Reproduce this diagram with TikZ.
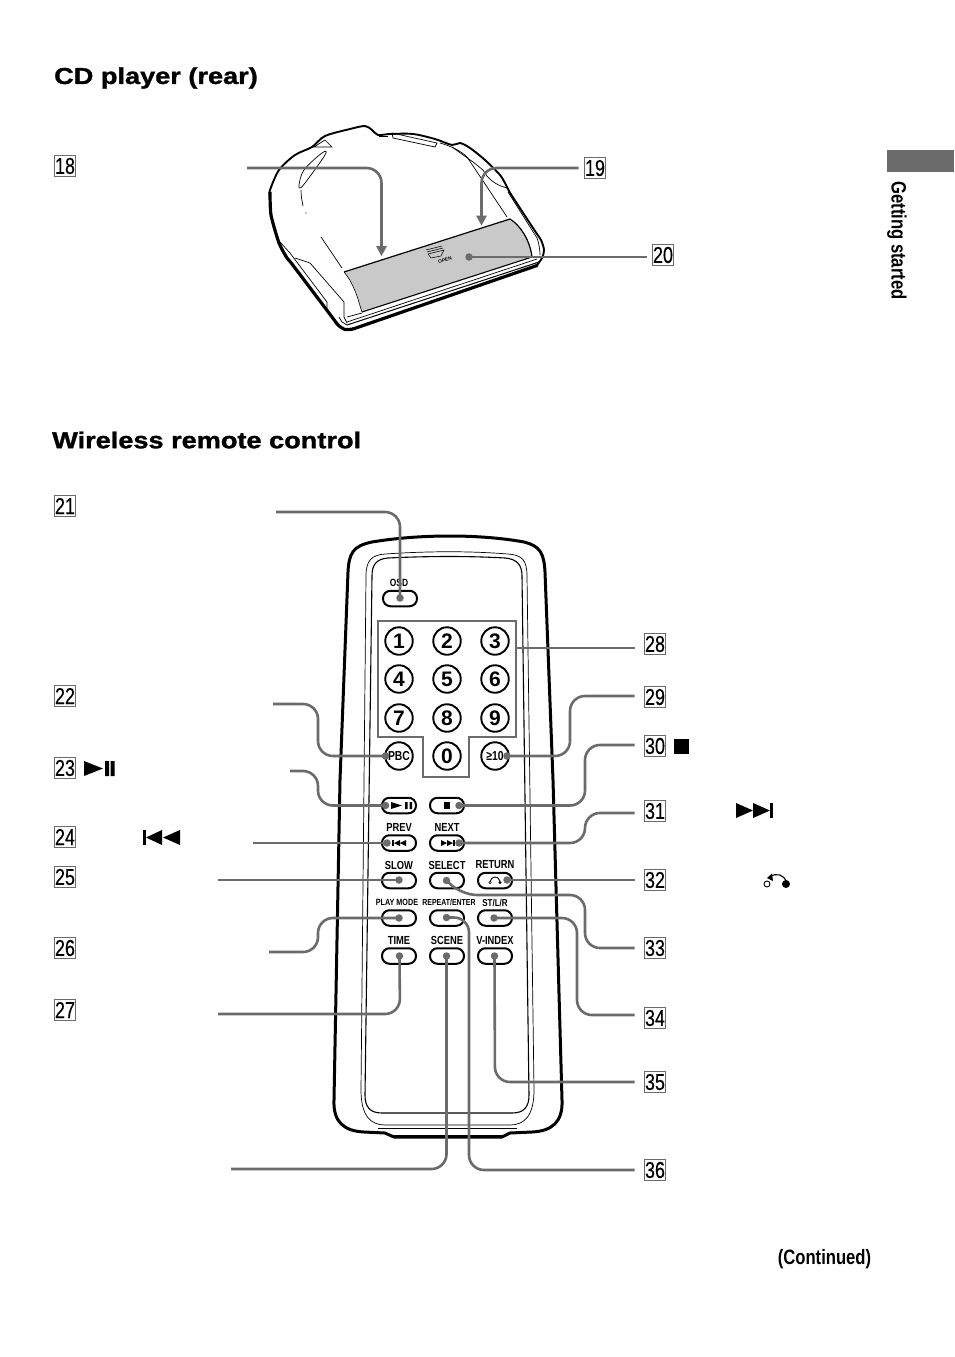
\documentclass[tikz,border=0pt]{standalone}
\usepackage{fontspec}
\setmainfont{Liberation Sans}
\newfontfamily\cond[FakeStretch=0.8]{Liberation Sans}
\newfontfamily\numf[FakeStretch=0.78,FakeBold=0.3]{Liberation Sans}
\newfontfamily\headf[FakeStretch=1.18,FakeBold=1.3]{Liberation Sans}
\definecolor{lead}{gray}{0.42}
\definecolor{tray}{gray}{0.79}
\tikzset{
  num/.style={draw=lead,line width=1.1pt,minimum width=21.5pt,minimum height=21.5pt,inner sep=0pt,font=\numf\fontsize{23}{23}\selectfont},
  leadline/.style={draw=lead,line width=2.6pt,rounded corners=15pt},
  pill/.style={draw=black,line width=2pt,rounded corners=7.5pt,minimum width=34pt,minimum height=15.5pt,inner sep=0pt},
  digit/.style={draw=black,line width=1.9pt,circle,minimum size=27.5pt,inner sep=0pt,font=\bfseries\fontsize{21}{21}\selectfont},
  btnlab/.style={font=\cond\bfseries\fontsize{11.7}{11.7}\selectfont,inner sep=0pt},
  heading/.style={font=\headf\bfseries\fontsize{23}{23}\selectfont,inner sep=0pt,anchor=west},
  thin/.style={line width=0.7pt},
  dotend/.style={fill=lead,draw=none,circle,minimum size=7.5pt,inner sep=0pt}
}
\begin{document}
\begin{tikzpicture}[x=1pt,y=-1pt]
\useasboundingbox (0,0) rectangle (954,1357);
\fill[white] (0,0) rectangle (954,1357);
% headings and page furniture
\node[heading] (h1) at (54,78) {CD player (rear)};
\node[heading] (h2) at (52,440) {Wireless remote control};
\fill[lead] (887,150) rectangle (954,172);
\node[rotate=-90,inner sep=0pt,font=\cond\bfseries\fontsize{20.8}{20.8}\selectfont] (side) at (897,240.5) {Getting started};
\node[inner sep=0pt,font=\cond\bfseries\fontsize{20.8}{20.8}\selectfont] (cont) at (824.5,1259) {(Continued)};
% CD player
\draw[black,line width=1.9pt,line join=round] plot[smooth,tension=.5] coordinates {(270,195) (270,190) (279,170) (295,155) (312,147) (325,136) (350,129) (365,126) (372,130) (378,135) (390,134) (413,134) (435,139) (452,145) (460,143) (470,148) (485,160) (500,175) (506,185) (509,191) (514,199) (535,231) (541,240) (544,250) (542,258) (537,265)};
\draw[black,line width=3.2pt,line join=round] plot[smooth,tension=.4] coordinates {(270,192) (271,215) (279,243) (287,258) (292,264) (332,317) (338,325) (345,329.5) (353,329)};
\draw[black,line width=3.2pt,line cap=round] (353,329) -- (537,265.5);
\fill[tray] (344,272) -- (510,219) .. controls (520,225) and (530,240) .. (532,257) -- (362,312) .. controls (358,300) and (355,285) .. (344,272) -- cycle;
\draw[black,line width=1.2pt] (344,272) -- (510,219) .. controls (520,225) and (530,240) .. (532,257);
\draw[black,line width=0.6pt] (362,312) .. controls (358,300) and (355,285) .. (344,272);
\draw[black,line width=1.1pt] (362,312) -- (532,257);
\draw[thin] (347,322) -- (537,259);
\draw[black,line width=1pt] (347,325) -- (539,262);
\draw[thin] (347,317) -- (362,313);
\draw[thin] (392,133) -- (437,143) -- (435,147) -- (393,138) -- cycle;
\draw[thin] (379,136) -- (388,136);
\draw[thin] (314,147) -- (325,140) -- (332,147) -- cycle;
\draw[thin] plot[smooth cycle,tension=.6] coordinates {(322,153) (325,155) (305,183) (300,188) (299,185) (304,170)};
\draw[thin] (301,190) .. controls (301,196) and (302,201) .. (303,206);
\fill (306,213) circle (0.7);
\draw[thin] (321,237) -- (342,268);
\draw[thin] (295,258) -- (310,263) -- (344,302) -- (344,317) -- (347,323);
\draw[thin] (280,242) -- (290,253) -- (327,302) -- (327,308);
\draw[thin] (339,317) -- (342,322) -- (347,325);
\draw[thin] (440,143) .. controls (450,146) and (460,150) .. (467,157) -- (507,217);
\draw[thin] (452,147) -- (473,162) -- (483,170) .. controls (487,178) and (495,185) .. (507,188);
\draw[thin] (508,192) -- (537,238) .. controls (539,243) and (540,250) .. (540,255);
\draw[black,line width=0.5pt] (426,250) -- (442,246) (427,252) -- (443,248) (428,254) -- (444,250) -- (441,256) -- (431,258) -- (428,254);
\node[rotate=12,inner sep=0pt,font=\bfseries\fontsize{4.8}{4.8}\selectfont] (open) at (445,260) {OPEN};
% remote body
\draw[black,line width=3pt,line join=round] (340,780) -- (348,572) .. controls (349,553) and (353,546) .. (372,542) .. controls (420,534) and (480,534) .. (524,542) .. controls (540,546) and (544,553) .. (545,572) -- (553,780) -- (562,1100) .. controls (563,1122) and (552,1131) .. (532,1132) -- (510,1133) -- (502,1137) -- (394,1137) -- (385,1133) -- (364,1132) .. controls (344,1131) and (333,1122) .. (334,1100) -- cycle;
\draw[black,line width=3.5pt] (394,1136.5) -- (502,1136.5);
\draw[black,line width=0.7pt] (361,1090) -- (366,576) .. controls (366,560) and (372,555) .. (385,554) .. controls (430,551) and (470,551) .. (508,554) .. controls (522,555) and (527,560) .. (527,576) -- (534,1090) .. controls (534,1115) and (525,1125) .. (510,1125) -- (385,1125) .. controls (370,1125) and (361,1115) .. (361,1090) -- cycle;
\draw[black,line width=1.1pt] (365,1095) -- (372,576) .. controls (372,565) and (376,559) .. (388,558) .. controls (430,556) and (470,556) .. (505,558) .. controls (517,559) and (522,565) .. (522,576) -- (529,1095) .. controls (529,1107) and (524,1113) .. (512,1113) -- (382,1113) .. controls (370,1113) and (365,1107) .. (365,1095) -- cycle;
\draw[black,line width=0.8pt] (378,1128) -- (517,1128);
% buttons
\node[pill] (osd) at (400,598.5) {};
\node[btnlab,font=\cond\bfseries\fontsize{10.5}{10.5}\selectfont] (losd) at (399,583) {OSD};
\foreach \n/\x/\y in {1/399/641,2/447/641,3/495/641,4/399/679,5/447/679,6/495/679,7/399/718,8/447/718,9/495/718,0/447/756}
  \node[digit] (d\n) at (\x,\y) {\n};
\node[digit,font=\cond\bfseries\fontsize{13}{13}\selectfont] (pbc) at (399,756) {PBC};
\node[digit,font=\cond\bfseries\fontsize{13}{13}\selectfont] (ten) at (495,756) {≥10};
\node[pill] (play) at (399,805.5) {};
\node[pill] (stopb) at (447,805.5) {};
\node[pill] (prev) at (399,843) {};
\node[pill] (next) at (447,843) {};
\node[pill] (slow) at (399,880.5) {};
\node[pill] (select) at (447,880.5) {};
\node[pill] (ret) at (495,880.5) {};
\node[pill] (mode) at (399,918) {};
\node[pill] (rep) at (447,918) {};
\node[pill] (stlr) at (495,918) {};
\node[pill] (timeb) at (399,956) {};
\node[pill] (scene) at (447,956) {};
\node[pill] (vindex) at (495,956) {};
\node[btnlab] (lprev) at (399,827.5) {PREV};
\node[btnlab] (lnext) at (447,827.5) {NEXT};
\node[btnlab] (lslow) at (399,865) {SLOW};
\node[btnlab] (lselect) at (447,865) {SELECT};
\node[btnlab] (lreturn) at (495,865) {RETURN};
\node[btnlab,font=\cond\bfseries\fontsize{9}{9}\selectfont] (lmode) at (397,902.5) {PLAY MODE};
\node[btnlab,font=\cond\bfseries\fontsize{8.7}{8.7}\selectfont] (lrep) at (449,902.5) {REPEAT/ENTER};
\node[btnlab,font=\cond\bfseries\fontsize{10}{10}\selectfont] (lstlr) at (495,902.5) {ST/L/R};
\node[btnlab] (ltime) at (399,940.5) {TIME};
\node[btnlab] (lscene) at (447,940.5) {SCENE};
\node[btnlab] (lvindex) at (495,940.5) {V-INDEX};
% button glyphs
\fill (391,802) -- (402,805.5) -- (391,809) -- cycle;
\fill (405,802) rectangle (407.5,809) (409.5,802) rectangle (412,809);
\fill (444,802) rectangle (450,809);
\fill (392,840) rectangle (393.5,846);
\fill (400,840) -- (394,843) -- (400,846) -- cycle (406,840) -- (400,843) -- (406,846) -- cycle;
\fill (441,840) -- (447,843) -- (441,846) -- cycle (447,840) -- (453,843) -- (447,846) -- cycle;
\fill (453,840) rectangle (454.5,846);
\draw[line width=0.9pt] (490,882) .. controls (491,876) and (498,875) .. (500,881);
\draw[line width=0.5pt,fill=white] (490,882.5) circle (1.3);
\fill (500,882.5) circle (1.6);
% keypad outline
\coordinate (k28) at (516,648);
\draw[lead,line width=2.8pt] (378,621) -- (516,621) -- (516,737) -- (469,737) -- (469,777) -- (423,777) -- (423,737) -- (378,737) -- cycle;
% labels
\foreach \n/\x/\y in {18/65/166,19/595/168,20/663/255,21/65/506,22/65/696,23/65/768,24/65/837,25/65/877,26/65/948,27/65/1010,28/655/644,29/655/697,30/655/746,31/655/811,32/655/880,33/655/948,34/655/1018,35/655/1082,36/655/1170}
  \node[num] (n\n) at (\x,\y) {\n};
% label glyphs
\fill (84,761) -- (103,768.5) -- (84,776) -- cycle;
\fill (105,761) rectangle (109,776) (110.5,761) rectangle (114.5,776);
\fill (143,830) rectangle (146,845);
\fill (162,830) -- (146,837.5) -- (162,845) -- cycle (180,830) -- (163,837.5) -- (180,845) -- cycle;
\fill (674,739) rectangle (689,754);
\fill (736,803) -- (753,810.5) -- (736,818) -- cycle (753,803) -- (770,810.5) -- (753,818) -- cycle;
\fill (770,803) rectangle (773,818);
\draw[line width=1.1pt] (770,877) .. controls (776,872) and (785,875) .. (786,882);
\fill (772,873.5) -- (767,878) -- (773,881) -- cycle;
\draw[line width=0.9pt,fill=white] (767,884) circle (3);
\fill (786,884) circle (4);
% free ends of the leaders
\coordinate (s18) at (247,168);
\coordinate (e18) at (381.5,248);
\coordinate (e19) at (481.5,218);
\coordinate (d20) at (469,257);
\coordinate (s21) at (276,512);
\coordinate (s22) at (273,704);
\coordinate (s23) at (290,771);
\coordinate (s24) at (253,843);
\coordinate (s25) at (218,880);
\coordinate (s26) at (269,952);
\coordinate (s27) at (218,1014);
\coordinate (s37) at (231,1169);
\coordinate (p21) at (400,598);
\coordinate (p22) at (385.5,756);
\coordinate (p23) at (385.5,805.5);
\coordinate (p24) at (387,843);
\coordinate (p25) at (399,880);
\coordinate (p26) at (399,918);
\coordinate (p27) at (399.5,956);
\coordinate (p37) at (446.5,956);
\coordinate (p29) at (507,756);
\coordinate (p30) at (459,805.5);
\coordinate (p31) at (459,843);
\coordinate (p32) at (507,880);
\coordinate (p33) at (446.5,880.5);
\coordinate (p34) at (494,918);
\coordinate (p35) at (494.5,956);
\coordinate (p36) at (446.5,917.5);
% leaders
\draw[leadline] (s18) -- (381.5,168) -- (e18);
\fill[lead] (376,246) -- (387,246) -- (381.5,256) -- cycle;
\draw[leadline] (n19.west) ++(-5,0) -- (481.5,168) -- (e19);
\fill[lead] (476,215.5) -- (487,215.5) -- (481.5,225.5) -- cycle;
\draw[leadline] (n20.west) ++(-5,2) -- (d20);
\node[dotend] (t20) at (d20) {};
\draw[leadline] (s21) -- (400,512) -- (p21);
\node[dotend] (t21) at (p21) {};
\draw[leadline] (s22) -- (318,704) -- (318,756) -- (p22);
\node[dotend] (t22) at (p22) {};
\draw[leadline] (s23) -- (318,771) -- (318,805.5) -- (p23);
\node[dotend] (t23) at (p23) {};
\draw[leadline] (s24) -- (p24);
\node[dotend] (t24) at (p24) {};
\draw[leadline] (s25) -- (p25);
\node[dotend] (t25) at (p25) {};
\draw[leadline] (s26) -- (318,952) -- (318,918) -- (p26);
\node[dotend] (t26) at (p26) {};
\draw[leadline] (s27) -- (400,1014) -- (p27);
\node[dotend] (t27) at (p27) {};
\draw[leadline] (s37) -- (446.5,1169) -- (p37);
\node[dotend] (t37) at (p37) {};
\draw[leadline] (n28.west) ++(-9,4) -- (k28);
\draw[leadline] (n29.west) ++(-9,-1) -- (570,696) -- (570,756) -- (p29);
\node[dotend] (t29) at (p29) {};
\draw[leadline] (n30.west) ++(-9,-1) -- (585,745) -- (585,805.5) -- (p30);
\node[dotend] (t30) at (p30) {};
\draw[leadline] (n31.west) ++(-9,2) -- (585,813) -- (585,843) -- (p31);
\node[dotend] (t31) at (p31) {};
\draw[leadline] (n32.west) ++(-9,0) -- (p32);
\node[dotend] (t32) at (p32) {};
\draw[leadline] (n33.west) ++(-9,0) -- (585,948) -- (585,895) -- (462,895) -- (p33);
\node[dotend] (t33) at (p33) {};
\draw[leadline] (n34.west) ++(-9,-3) -- (577,1015) -- (577,918) -- (p34);
\node[dotend] (t34) at (p34) {};
\draw[leadline] (n35.west) ++(-9,0) -- (495,1082) -- (p35);
\node[dotend] (t35) at (p35) {};
\draw[leadline] (n36.west) ++(-9,0) -- (469,1170) -- (469,917.5) -- (p36);
\node[dotend] (t36) at (p36) {};
\end{tikzpicture}
\end{document}
